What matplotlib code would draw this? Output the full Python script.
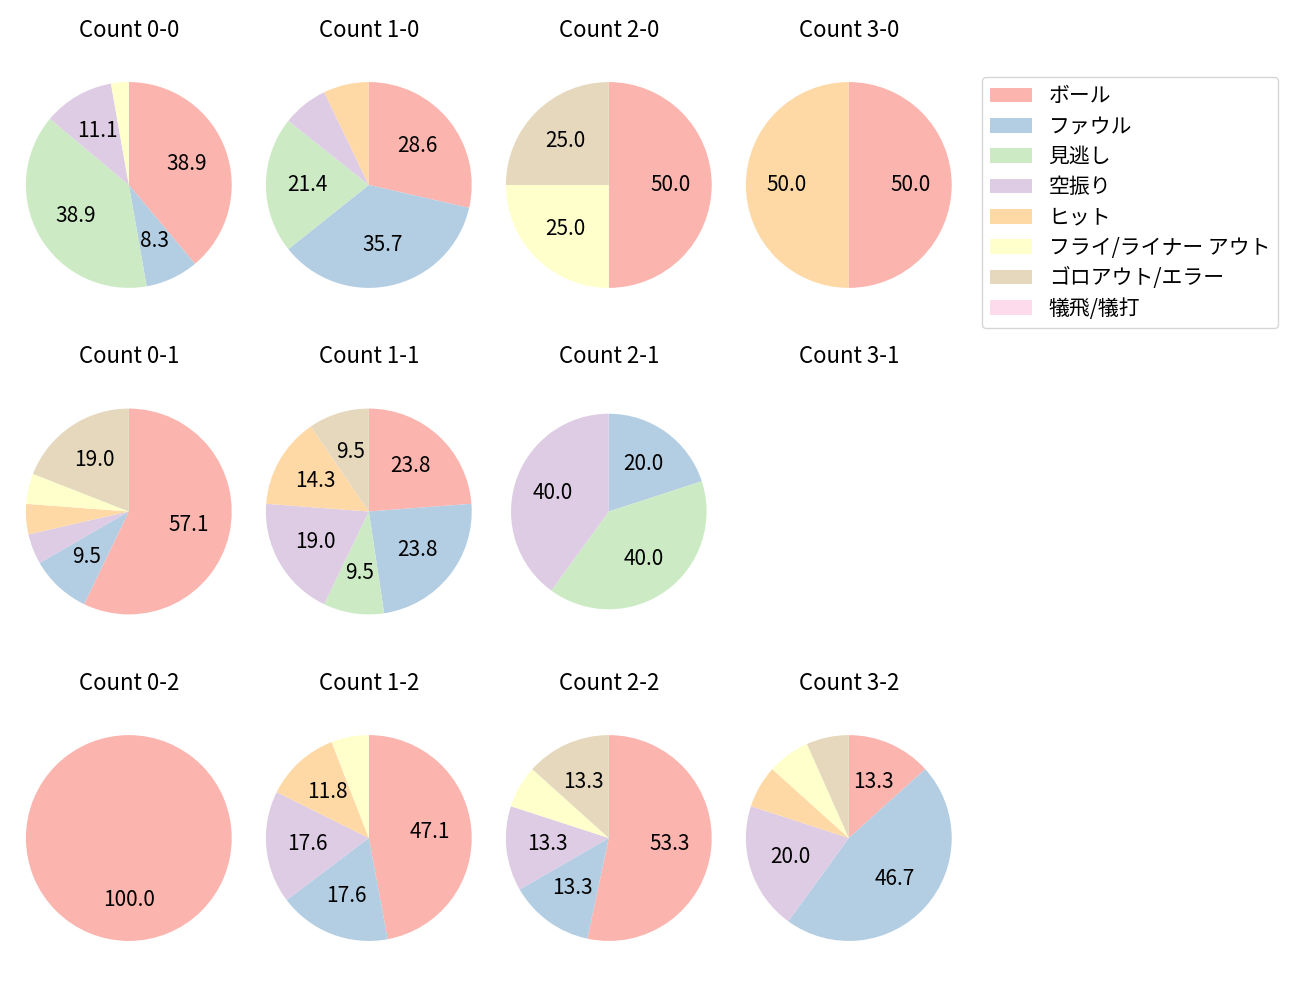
import matplotlib
matplotlib.use("Agg")
import matplotlib.pyplot as plt
from matplotlib.patches import Patch

plt.rcParams["font.family"] = ["Noto Sans CJK JP", "DejaVu Sans"]

categories = ["ボール", "ファウル", "見逃し", "空振り", "ヒット",
              "フライ/ライナー アウト", "ゴロアウト/エラー", "犠飛/犠打"]
colors = ["#fbb4ae", "#b3cde3", "#ccebc5", "#decbe4", "#fed9a6",
          "#ffffcc", "#e5d8bd", "#fddaec"]

balls = [0, 1, 2, 3]
strikes = [0, 1, 2]

# pitch results per count, same order as categories
count_0_0 = [14, 3, 14, 4, 0, 1, 0, 0]
count_1_0 = [4, 5, 3, 1, 1, 0, 0, 0]
count_2_0 = [2, 0, 0, 0, 0, 1, 1, 0]
count_3_0 = [1, 0, 0, 0, 1, 0, 0, 0]
count_0_1 = [12, 2, 0, 1, 1, 1, 4, 0]
count_1_1 = [5, 5, 2, 4, 3, 0, 2, 0]
count_2_1 = [0, 1, 2, 2, 0, 0, 0, 0]
count_3_1 = [0, 0, 0, 0, 0, 0, 0, 0]
count_0_2 = [1, 0, 0, 0, 0, 0, 0, 0]
count_1_2 = [8, 3, 0, 3, 2, 1, 0, 0]
count_2_2 = [8, 2, 0, 2, 0, 1, 2, 0]
count_3_2 = [2, 7, 0, 3, 1, 1, 1, 0]

data = {
    (0, 0): count_0_0, (1, 0): count_1_0, (2, 0): count_2_0, (3, 0): count_3_0,
    (0, 1): count_0_1, (1, 1): count_1_1, (2, 1): count_2_1, (3, 1): count_3_1,
    (0, 2): count_0_2, (1, 2): count_1_2, (2, 2): count_2_2, (3, 2): count_3_2,
}


def autopct(p):
    return f"{p:.1f}" if p >= 7.5 else ""


fig, axes = plt.subplots(3, 4, figsize=(13, 10), dpi=100,
                         gridspec_kw=dict(left=0.012, right=0.740, top=0.957,
                                          bottom=0.020, wspace=0.06, hspace=0.15))

for s in strikes:
    for b in balls:
        ax = axes[s, b]
        vals = data[(b, s)]
        ax.set_title(f"Count {b}-{s}", fontsize=16, pad=4.5)
        if sum(vals) == 0:
            ax.axis("off")
            continue
        r = 0.95 if (b, s) == (2, 1) else 1.0
        ax.pie(vals, colors=colors, startangle=90, counterclock=False,
               autopct=autopct, pctdistance=0.6, radius=r,
               textprops=dict(fontsize=15))
        ax.set_xlim(-1.1, 1.1)
        ax.set_ylim(-1.1, 1.1)
        ax.set_aspect("equal", adjustable="datalim")

handles = [Patch(facecolor=c, label=l) for c, l in zip(colors, categories)]
fig.legend(handles=handles, loc="upper left", bbox_to_anchor=(0.755, 0.923),
           borderaxespad=0, fontsize=15, handlelength=2.0, handletextpad=0.82,
           labelspacing=0.4)

fig.savefig("out.png")
